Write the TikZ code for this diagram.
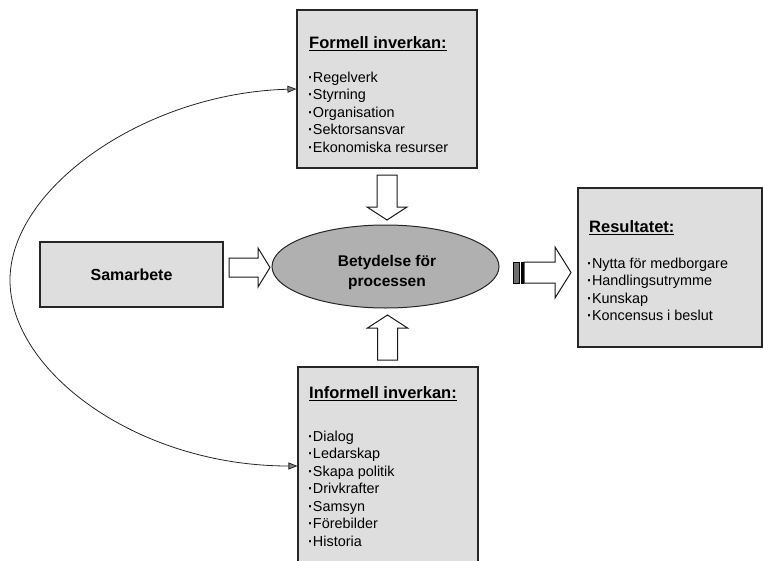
\documentclass[tikz,border=0pt]{standalone}
\usepackage{fontspec}
\setmainfont{Liberation Sans}
\usetikzlibrary{arrows.meta,shapes.geometric}
\definecolor{boxfill}{HTML}{DEDEDE}
\definecolor{ovalfill}{HTML}{B0B0B0}
\definecolor{stripefill}{HTML}{6E6E6E}
\newcommand{\dotmark}{{\bfseries ·}}
\begin{document}
\begin{tikzpicture}[x=1pt,y=-1pt,
  panel/.style={rectangle, draw=black!85, line width=1.1pt, fill=boxfill, inner sep=0pt},
  oval/.style={ellipse, draw=black!85, line width=1pt, fill=ovalfill, inner sep=0pt,
    minimum width=227pt, minimum height=83pt},
  ovaltext/.style={align=center, inner sep=0pt, font=\fontsize{15.5}{20}\selectfont\bfseries},
  blockarrow/.style={draw=black!90, line width=1pt, fill=white, line join=miter},
  item/.style={anchor=base west, inner sep=0pt, font=\fontsize{14.4}{16}\selectfont},
  heading/.style={anchor=base west, inner sep=0pt, font=\fontsize{16.5}{19}\selectfont\bfseries},
  tipshape/.tip={Triangle[length=9pt,width=7pt,fill=gray]},
  link/.style={draw=black!85, line width=0.8pt, tipshape-tipshape}
]
\useasboundingbox (0,0) rectangle (763,560);

% boxes
\node[panel, minimum width=180pt, minimum height=158pt] (formell) at (387,89) {};
\node[panel, minimum width=180pt, minimum height=198pt] (informell) at (388,466) {};
\node[panel, minimum width=183pt, minimum height=65pt,
      font=\fontsize{16}{19}\selectfont\bfseries] (samarbete) at (131.5,274.5) {Samarbete};
\node[panel, minimum width=184pt, minimum height=159pt] (resultat) at (670,267.5) {};
\node[oval] (process) at (385.5,266.5) {};
\node[ovaltext] (processtext) at (387,272) {Betydelse för\\processen};

% formal influence
\node[heading] (fhead) at (309,48.5) {\underline{Formell inverkan:}};
\foreach \txt [count=\i] in {Regelverk,Styrning,Organisation,Sektorsansvar,Ekonomiska resurser}
  \node[item] (f\i) at (308,{64.5+17.5*\i}) {\dotmark\txt};

% informal influence
\node[heading] (ihead) at (309,398.5) {\underline{Informell inverkan:}};
\foreach \txt [count=\i] in {Dialog,Ledarskap,Skapa politik,Drivkrafter,Samsyn,Förebilder,Historia}
  \node[item] (i\i) at (308,{423.5+17.5*\i}) {\dotmark\txt};

% result
\node[heading] (rhead) at (589,232.5) {\underline{Resultatet:}};
\foreach \txt [count=\i] in {Nytta för medborgare,Handlingsutrymme,Kunskap,Koncensus i beslut}
  \node[item] (r\i) at (587,{250.5+17.5*\i}) {\dotmark\txt};

% block arrows towards the centre
\draw[blockarrow] (229,258) -- (258,258) -- (258,248) -- (270,267.5)
  -- (258,287) -- (258,277) -- (229,277) -- cycle;
\draw[blockarrow] (377,175) -- (397,175) -- (397,207) -- (407,207)
  -- (387,220) -- (367,207) -- (377,207) -- cycle;
\draw[blockarrow] (377.5,360) -- (397.5,360) -- (397.5,328) -- (407.5,328)
  -- (387.5,315) -- (367.5,328) -- (377.5,328) -- cycle;

% striped arrow towards the result
\draw[line width=1pt, fill=stripefill] (513,262) rectangle (519,283);
\draw[line width=1pt, fill=black] (521,262) rectangle (523,283);
\draw[blockarrow] (524,262) -- (555,262) -- (555,247) -- (571,272.5)
  -- (555,298) -- (555,283) -- (524,283) -- cycle;

% curved link between the two influence boxes
\draw[link] (formell.west) .. controls (145,93) and (10,188) .. (10,280)
  .. controls (10,372) and (138,466) .. (informell.west);
\end{tikzpicture}
\end{document}
